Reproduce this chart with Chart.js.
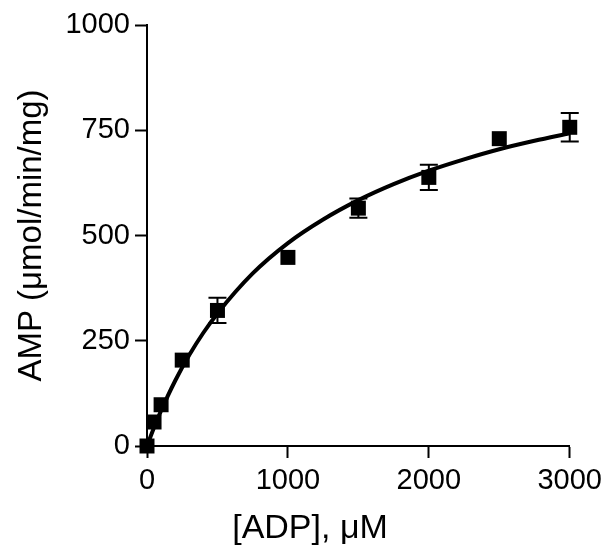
<!DOCTYPE html>
<html>
<head>
<meta charset="utf-8">
<script src="https://cdn.jsdelivr.net/npm/chart.js@4/dist/chart.umd.min.js"></script>
<style>
  html, body { margin: 0; padding: 0; background: #fff; }
  #wrap { width: 608px; height: 546px; position: relative; }
</style>
</head>
<body>
<div id="wrap"><canvas id="c"></canvas></div>
<script>
// Measured rates (mean ± SD) at each ADP concentration; 0 = bar hidden by marker
const adpConc = [0, 50, 100, 250, 500, 1000, 1500, 2000, 2500, 3000];
const ampRate = [0, 57, 98, 204, 322, 448, 565, 638, 730, 757];
const ampErr  = [0, 0, 0, 0, 30, 0, 23, 30, 0, 34];

// Fitted saturation curve
const fitConc = [0, 50, 100, 200, 300, 400, 500, 750, 1000, 1250, 1500, 1750, 2000, 2250, 2500, 2750, 3000];
const fitRate = [0, 44, 84, 155, 216, 269, 315, 410, 482, 538, 584, 622, 654, 681, 705, 725, 743];

const xTicks = [0, 1000, 2000, 3000];
const yTicks = [0, 250, 500, 750, 1000];

const FONT = "'Liberation Sans', Arial, sans-serif";

// Vertical error bars with caps, drawn under the square markers
const errorBars = {
  id: 'errorBars',
  beforeDatasetsDraw(chart) {
    const { ctx, scales: { x, y } } = chart;
    ctx.save();
    ctx.strokeStyle = '#000';
    ctx.lineWidth = 2;
    adpConc.forEach((c, i) => {
      if (!ampErr[i]) return;
      const px = x.getPixelForValue(c);
      const top = y.getPixelForValue(ampRate[i] + ampErr[i]);
      const bot = y.getPixelForValue(ampRate[i] - ampErr[i]);
      const half = 9;
      ctx.beginPath();
      ctx.moveTo(px, top); ctx.lineTo(px, bot);
      ctx.moveTo(px - half, top); ctx.lineTo(px + half, top);
      ctx.moveTo(px - half, bot); ctx.lineTo(px + half, bot);
      ctx.stroke();
    });
    ctx.restore();
  }
};

new Chart(document.getElementById('c'), {
  type: 'scatter',
  data: {
    datasets: [
      {
        type: 'line',
        data: fitConc.map((c, i) => ({ x: c, y: fitRate[i] })),
        borderColor: '#000',
        borderWidth: 4,
        pointRadius: 0,
        cubicInterpolationMode: 'monotone',
        fill: false,
        order: 2
      },
      {
        data: adpConc.map((c, i) => ({ x: c, y: ampRate[i] })),
        pointStyle: 'rect',
        pointRadius: 10.6,
        pointHoverRadius: 10.6,
        backgroundColor: '#000',
        borderWidth: 0,
        clip: false,
        order: 1
      }
    ]
  },
  options: {
    responsive: true,
    maintainAspectRatio: false,
    animation: false,
    events: [],
    layout: { padding: { left: 12, right: 0, top: 25, bottom: 0 } },
    plugins: {
      legend: { display: false },
      tooltip: { enabled: false },
      title: {
        display: true,
        position: 'bottom',
        text: '[ADP], μM',
        color: '#000',
        font: { family: FONT, size: 34, weight: 'normal', lineHeight: 1.0 },
        padding: { top: 0, bottom: 0 }
      }
    },
    scales: {
      x: {
        type: 'linear',
        min: 0, max: 3000,
        afterBuildTicks: s => { s.ticks = xTicks.map(v => ({ value: v })); },
        afterFit: s => { s.height = 66; },
        border: { display: true, color: '#000', width: 2 },
        grid: { display: true, drawOnChartArea: false, drawTicks: true, tickLength: 12, tickColor: '#000', tickWidth: 2 },
        ticks: { color: '#000', padding: 6, font: { family: FONT, size: 29 }, maxRotation: 0, callback: v => String(v) }
      },
      y: {
        type: 'linear',
        min: 0, max: 1000,
        afterBuildTicks: s => { s.ticks = yTicks.map(v => ({ value: v })); },
        afterFit: s => { s.width = 135; },
        border: { display: true, color: '#000', width: 2 },
        grid: { display: true, drawOnChartArea: false, drawTicks: true, tickLength: 12, tickColor: '#000', tickWidth: 2 },
        ticks: { color: '#000', padding: 5, font: { family: FONT, size: 29 }, callback: v => String(v) },
        title: {
          display: true,
          text: 'AMP (μmol/min/mg)',
          color: '#000',
          font: { family: FONT, size: 33, weight: 'normal', lineHeight: 1.2 },
          padding: { top: 0, bottom: 0 }
        }
      },
      // empty right-hand gutter
      yRight: {
        type: 'linear',
        position: 'right',
        min: 0, max: 1000,
        afterFit: s => { s.width = 37; },
        border: { display: false },
        grid: { display: false },
        ticks: { display: false }
      }
    }
  },
  plugins: [errorBars]
});
</script>
</body>
</html>
